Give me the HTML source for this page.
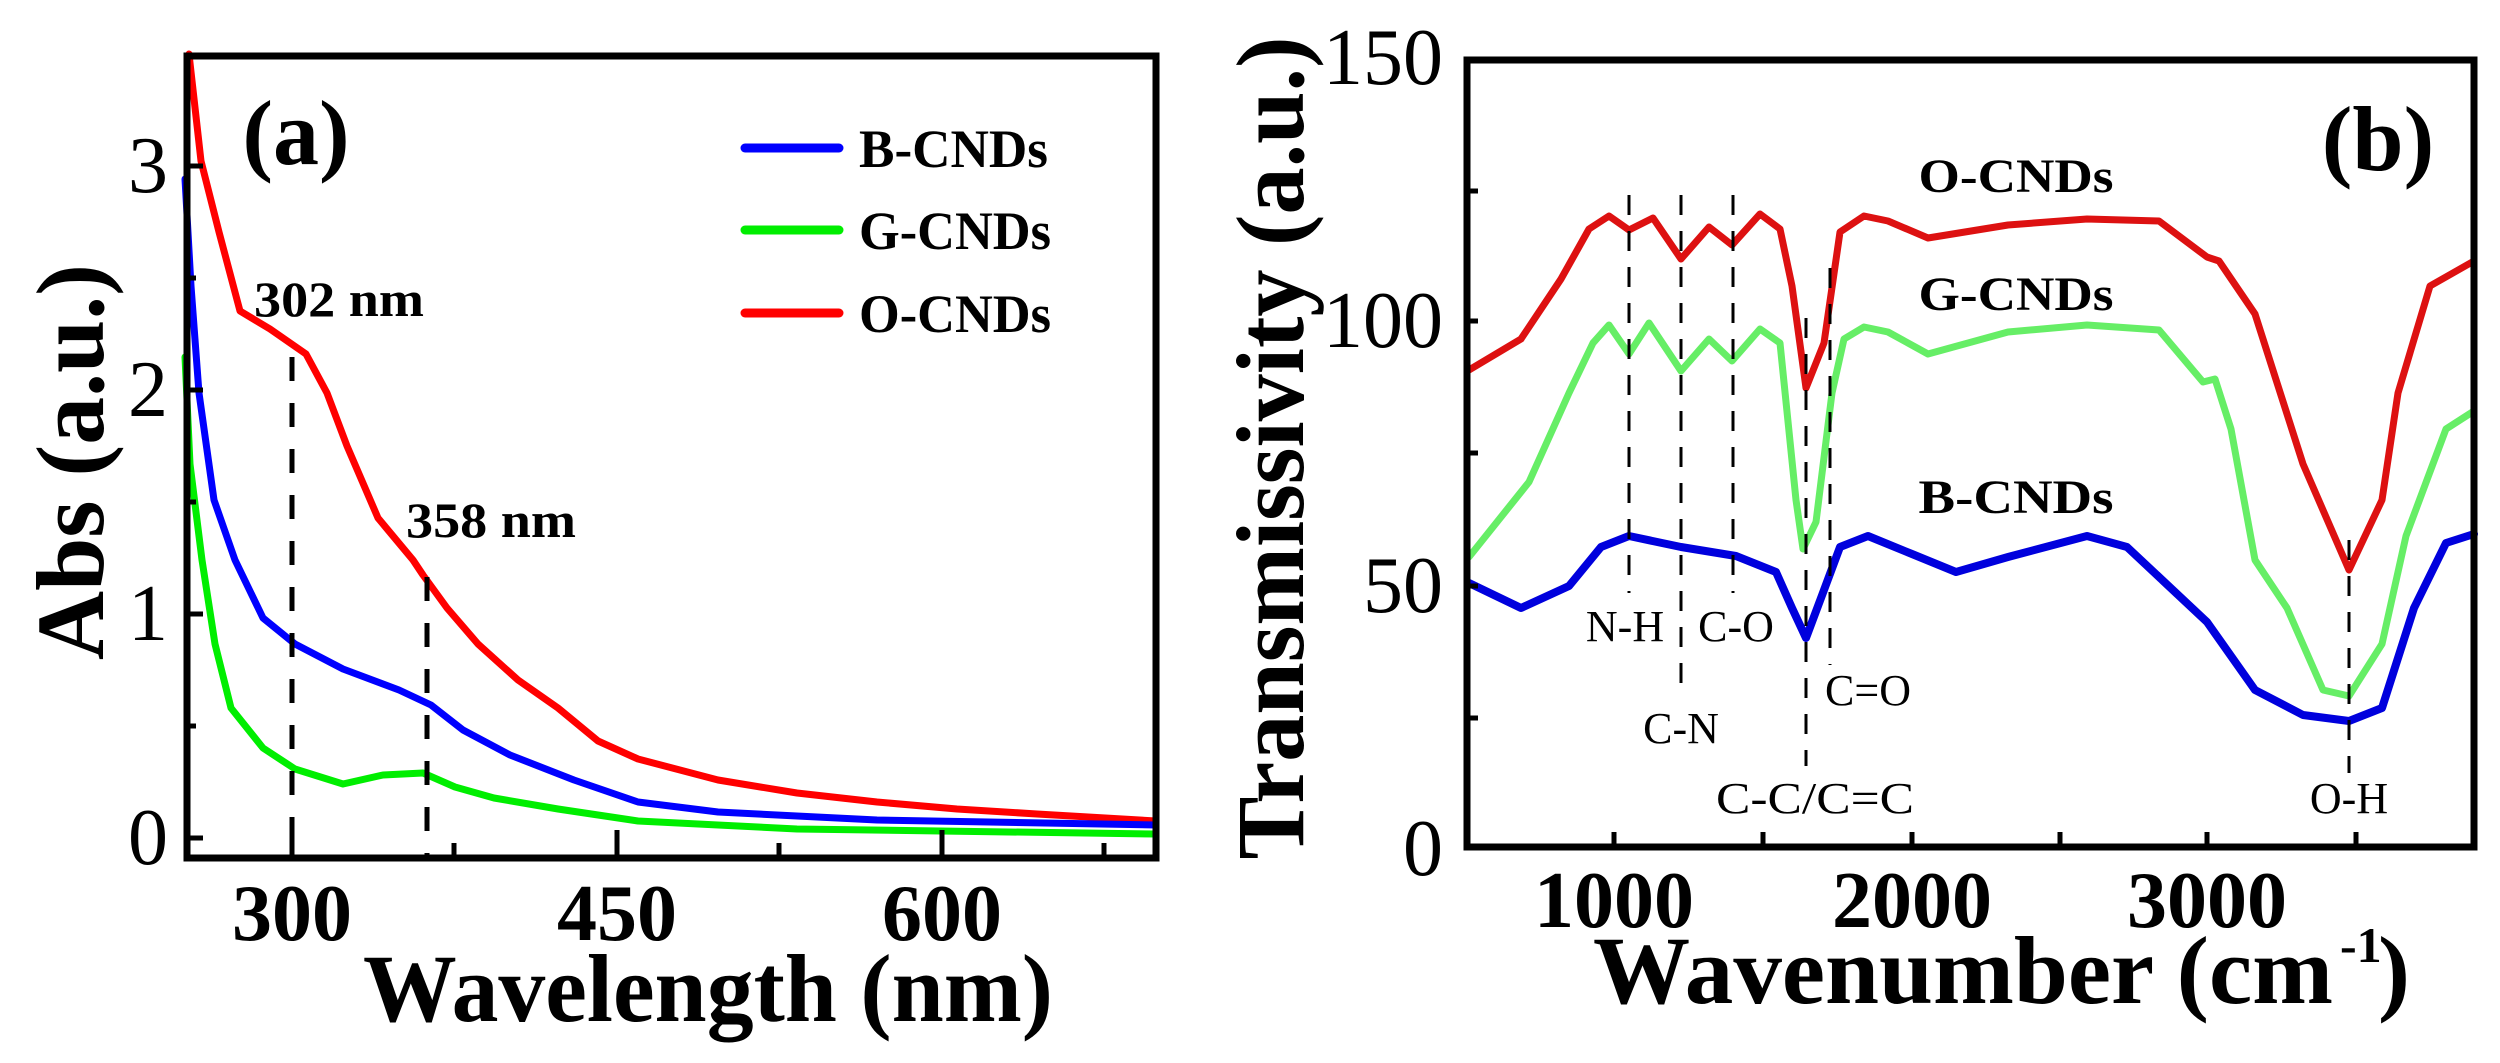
<!DOCTYPE html>
<html><head><meta charset="utf-8"><style>html,body{margin:0;padding:0;background:#fff}svg{display:block}</style></head>
<body>
<svg width="2500" height="1063" viewBox="0 0 2500 1063" xmlns="http://www.w3.org/2000/svg" font-family="'Liberation Serif', serif">
<!-- Panel A -->
<g stroke-linejoin="round" stroke-linecap="round" fill="none">
<polyline stroke="#ff0000" stroke-width="7" points="189,54 201,161 219,232 240,311 270,329 306,354 327,393 347,446 378,518 413,560 423,575 447,608 478,644 518,680 558,708 598,741 638,759 718,780 797,793 877,802 957,809 1037,814 1156,821"/>
<polyline stroke="#0000ff" stroke-width="7" points="185,179 191,286 199,393 214,500 235,560 263,618 295,644 343,669 399,690 431,705 463,730 510,755 574,780 638,802 718,812 877,820 1156,825"/>
<polyline stroke="#00ee00" stroke-width="7" points="185,357 190,464 202,560 215,644 231,708 263,748 295,769 343,784 383,775 423,773 455,787 494,798 558,809 638,821 797,829 1156,834"/>
</g>
<g stroke="#000" stroke-width="5" stroke-dasharray="24,22">
<line x1="292" y1="357" x2="292" y2="855"/>
<line x1="427" y1="577" x2="427" y2="855"/>
</g>
<rect x="187" y="56" width="969" height="802" fill="none" stroke="#000" stroke-width="7"/>
<g stroke="#000" stroke-width="5">
<line x1="292" y1="858" x2="292" y2="830"/><line x1="454" y1="858" x2="454" y2="843"/>
<line x1="617" y1="858" x2="617" y2="830"/><line x1="779" y1="858" x2="779" y2="843"/>
<line x1="942" y1="858" x2="942" y2="830"/><line x1="1104" y1="858" x2="1104" y2="843"/>
<line x1="187" y1="838" x2="203" y2="838"/><line x1="187" y1="726" x2="196" y2="726"/>
<line x1="187" y1="614" x2="203" y2="614"/><line x1="187" y1="502" x2="196" y2="502"/>
<line x1="187" y1="390" x2="203" y2="390"/><line x1="187" y1="278" x2="196" y2="278"/>
<line x1="187" y1="166" x2="203" y2="166"/>
</g>
<g font-size="80" text-anchor="end" fill="#000">
<text x="168" y="864">0</text><text x="168" y="640">1</text><text x="168" y="416">2</text><text x="168" y="192">3</text>
</g>
<g font-size="80" font-weight="bold" text-anchor="middle">
<text x="292" y="940">300</text><text x="617" y="940">450</text><text x="942" y="940">600</text>
</g>
<text x="708" y="1021" font-size="96" font-weight="bold" text-anchor="middle" textLength="690" lengthAdjust="spacingAndGlyphs">Wavelength (nm)</text>
<text transform="translate(103,462) rotate(-90)" font-size="96" font-weight="bold" text-anchor="middle" textLength="396" lengthAdjust="spacingAndGlyphs">Abs (a.u.)</text>
<text x="296" y="164" font-size="92" font-weight="bold" text-anchor="middle">(a)</text>
<text x="254" y="316" font-size="50" font-weight="bold" textLength="170" lengthAdjust="spacingAndGlyphs">302 nm</text>
<text x="406" y="537" font-size="50" font-weight="bold" textLength="170" lengthAdjust="spacingAndGlyphs">358 nm</text>
<g stroke-width="9" stroke-linecap="round">
<line x1="745" y1="148" x2="839" y2="148" stroke="#0000ff"/>
<line x1="745" y1="230" x2="839" y2="230" stroke="#00ee00"/>
<line x1="745" y1="313" x2="839" y2="313" stroke="#ff0000"/>
</g>
<g font-size="54" font-weight="bold">
<text x="859" y="167" textLength="189" lengthAdjust="spacingAndGlyphs">B-CNDs</text><text x="859" y="249" textLength="192" lengthAdjust="spacingAndGlyphs">G-CNDs</text><text x="859" y="332" textLength="192" lengthAdjust="spacingAndGlyphs">O-CNDs</text>
</g>

<!-- Panel B -->
<g stroke-linejoin="round" stroke-linecap="round" fill="none">
<polyline stroke="#dd1111" stroke-width="7" points="1469,370 1521,339 1561,279 1589,229 1609,216 1629,230 1653,218 1681,259 1709,227 1732,245 1760,214 1780,229 1792,286 1806,388 1824,343 1840,232 1864,216 1888,221 1928,238 2008,225 2087,219 2159,221 2207,257 2219,261 2255,314 2303,464 2349,570 2382,500 2398,393 2430,286 2474,261"/>
<polyline stroke="#66ee66" stroke-width="7" points="1469,557 1529,482 1569,393 1593,343 1609,325 1629,354 1649,323 1681,371 1709,339 1732,361 1760,329 1780,343 1796,500 1803,549 1816,522 1832,393 1844,339 1864,327 1888,332 1928,354 2008,332 2087,325 2159,330 2203,382 2215,379 2231,429 2255,560 2287,608 2323,690 2349,696 2382,644 2406,536 2446,429 2474,411"/>
<polyline stroke="#0000dd" stroke-width="8" points="1469,583 1521,608 1569,586 1601,547 1629,536 1681,547 1736,556 1776,572 1792,608 1806,638 1824,590 1840,547 1868,536 1912,554 1956,572 2008,557 2087,536 2127,547 2207,622 2255,690 2303,715 2349,721 2382,708 2414,608 2446,543 2474,534"/>
</g>
<g stroke="#000" stroke-width="3" stroke-dasharray="20,16">
<line x1="1629" y1="195" x2="1629" y2="593"/>
<line x1="1681" y1="195" x2="1681" y2="694"/>
<line x1="1733" y1="195" x2="1733" y2="593"/>
<line x1="1806" y1="318" x2="1806" y2="766"/>
<line x1="1830" y1="268" x2="1830" y2="665"/>
<line x1="2349" y1="540" x2="2349" y2="773"/>
</g>
<rect x="1467" y="60" width="1007" height="787" fill="none" stroke="#000" stroke-width="7"/>
<g stroke="#000" stroke-width="5">
<line x1="1614" y1="847" x2="1614" y2="832"/><line x1="1763" y1="847" x2="1763" y2="832"/>
<line x1="1912" y1="847" x2="1912" y2="832"/><line x1="2060" y1="847" x2="2060" y2="832"/>
<line x1="2207" y1="847" x2="2207" y2="832"/><line x1="2356" y1="847" x2="2356" y2="832"/>
<line x1="1467" y1="718" x2="1478" y2="718"/><line x1="1467" y1="586" x2="1478" y2="586"/>
<line x1="1467" y1="453" x2="1478" y2="453"/><line x1="1467" y1="321" x2="1478" y2="321"/>
<line x1="1467" y1="191" x2="1478" y2="191"/>
</g>
<g font-size="80" text-anchor="end">
<text x="1443" y="875">0</text><text x="1443" y="612">50</text><text x="1443" y="347">100</text><text x="1443" y="84">150</text>
</g>
<g font-size="80" font-weight="bold" text-anchor="middle">
<text x="1614" y="927">1000</text><text x="1912" y="927">2000</text><text x="2207" y="927">3000</text>
</g>
<text x="1593" y="1003" font-size="96" font-weight="bold" textLength="740" lengthAdjust="spacingAndGlyphs">Wavenumber (cm</text>
<text x="2340" y="962" font-size="50" font-weight="bold">-1</text>
<text x="2378" y="1003" font-size="96" font-weight="bold">)</text>
<text transform="translate(1303,448) rotate(-90)" font-size="96" font-weight="bold" text-anchor="middle" textLength="823" lengthAdjust="spacingAndGlyphs">Transmissivity (a.u.)</text>
<text x="2378" y="170" font-size="92" font-weight="bold" text-anchor="middle">(b)</text>
<g font-size="48" font-weight="bold" text-anchor="middle">
<text x="2016" y="192" textLength="195" lengthAdjust="spacingAndGlyphs">O-CNDs</text><text x="2016" y="310" textLength="195" lengthAdjust="spacingAndGlyphs">G-CNDs</text><text x="2016" y="513" textLength="195" lengthAdjust="spacingAndGlyphs">B-CNDs</text>
</g>
<g font-size="44" text-anchor="middle">
<text x="1625" y="641">N-H</text><text x="1736" y="641">C-O</text>
<text x="1681" y="743">C-N</text><text x="1868" y="705">C=O</text>
<text x="1815" y="813" textLength="198" lengthAdjust="spacingAndGlyphs">C-C/C=C</text><text x="2349" y="813">O-H</text>
</g>
</svg>
</body></html>
